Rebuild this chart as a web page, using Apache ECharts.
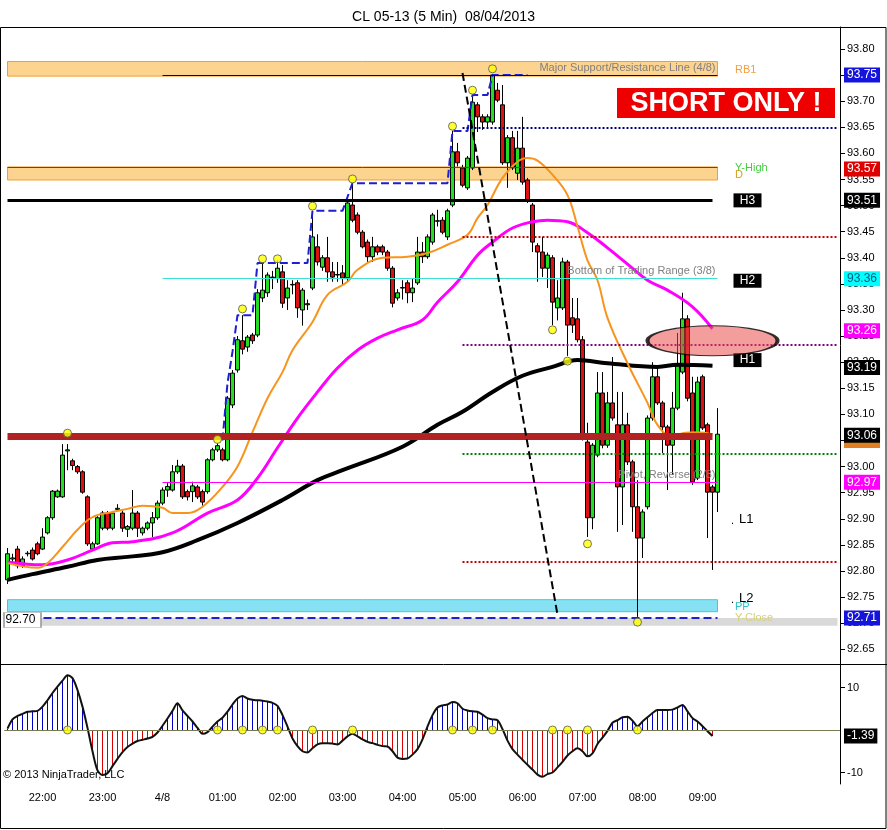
<!DOCTYPE html>
<html><head><meta charset="utf-8">
<script src="https://cdn.jsdelivr.net/npm/echarts@6/dist/echarts.min.js"></script>
<style>html,body{margin:0;padding:0;background:#fff}#c{width:887px;height:830px}</style>
</head><body><div id="c"></div>
<script>
// ---------------- DATA ----------------
const tickLabels = ['22:00','23:00','4/8','01:00','02:00','03:00','04:00','05:00','06:00','07:00','08:00','09:00'];
const priceTicks = [92.65,92.70,92.75,92.80,92.85,92.90,92.95,93.00,93.05,93.10,93.15,93.20,93.25,93.30,93.35,93.40,93.45,93.50,93.55,93.60,93.65,93.70,93.75,93.80];
const oscTicks = [-10, 10];
// [open, close, low, high]
const candles = [
[92.783,92.833,92.775,92.844],[92.823,92.825,92.815,92.833],[92.842,92.810,92.805,92.848],[92.810,92.823,92.806,92.828],[92.833,92.834,92.828,92.838],
[92.840,92.823,92.820,92.845],[92.852,92.833,92.830,92.856],[92.842,92.865,92.840,92.882],[92.873,92.902,92.870,92.905],[92.902,92.953,92.898,92.955],
[92.942,92.953,92.940,92.956],[92.942,93.022,92.940,93.043],[93.030,93.032,92.993,93.043],[93.011,93.002,92.993,93.015],[93.000,92.990,92.986,93.003],
[92.990,92.951,92.948,92.993],[92.942,92.852,92.848,92.945],[92.842,92.852,92.838,92.856],[92.852,92.902,92.850,92.905],[92.882,92.911,92.878,92.915],
[92.911,92.882,92.878,92.915],[92.882,92.911,92.878,92.915],[92.918,92.920,92.915,92.928],[92.911,92.882,92.875,92.915],[92.880,92.885,92.865,92.888],
[92.882,92.911,92.878,92.955],[92.911,92.882,92.865,92.915],[92.873,92.882,92.868,92.885],[92.882,92.892,92.878,92.895],[92.892,92.902,92.865,92.913],
[92.902,92.930,92.898,92.935],[92.930,92.955,92.926,92.960],[92.955,92.962,92.942,92.970],[92.955,92.990,92.952,93.003],[92.990,93.001,92.986,93.013],
[93.001,92.942,92.938,93.005],[92.952,92.942,92.935,92.956],[92.952,92.963,92.932,92.971],[92.961,92.942,92.938,92.965],[92.952,92.932,92.925,92.956],
[92.952,93.013,92.948,93.016],[93.013,93.032,93.010,93.036],[93.032,93.040,93.028,93.045],[93.032,93.013,93.010,93.036],[93.013,93.131,93.010,93.135],
[93.118,93.179,93.112,93.185],[93.185,93.243,93.180,93.250],[93.241,93.225,93.215,93.290],[93.229,93.248,93.220,93.252],[93.252,93.241,93.235,93.256],
[93.252,93.333,93.248,93.340],[93.323,93.338,93.315,93.392],[93.333,93.367,93.325,93.372],[93.362,93.363,93.340,93.375],[93.360,93.380,93.352,93.395],
[93.373,93.313,93.304,93.386],[93.323,93.342,93.300,93.357],[93.348,93.349,93.330,93.357],[93.352,93.304,93.285,93.357],[93.300,93.338,93.270,93.342],
[93.310,93.312,93.300,93.320],[93.342,93.440,93.338,93.490],[93.421,93.392,93.385,93.445],[93.382,93.400,93.375,93.405],[93.400,93.373,93.354,93.440],
[93.373,93.363,93.354,93.392],[93.367,93.368,93.354,93.392],[93.371,93.361,93.348,93.386],[93.362,93.505,93.355,93.510],[93.501,93.472,93.468,93.543],
[93.482,93.449,93.445,93.487],[93.449,93.421,93.418,93.453],[93.430,93.402,93.392,93.435],[93.402,93.421,93.392,93.440],[93.421,93.411,93.405,93.425],
[93.421,93.411,93.405,93.425],[93.411,93.380,93.375,93.415],[93.380,93.313,93.305,93.384],[93.323,93.333,93.318,93.340],[93.342,93.343,93.320,93.357],
[93.352,93.333,93.313,93.357],[93.333,93.342,93.315,93.360],[93.352,93.411,93.348,93.440],[93.411,93.402,93.390,93.430],[93.402,93.440,93.398,93.445],
[93.430,93.482,93.425,93.486],[93.470,93.471,93.460,93.492],[93.472,93.449,93.445,93.478],[93.440,93.490,93.434,93.494],[93.501,93.603,93.497,93.643],
[93.603,93.582,93.575,93.620],[93.572,93.539,93.535,93.578],[93.534,93.591,93.530,93.595],[93.572,93.698,93.568,93.712],[93.693,93.670,93.641,93.698],
[93.670,93.660,93.645,93.675],[93.660,93.670,93.648,93.675],[93.660,93.750,93.655,93.752],[93.721,93.702,93.698,93.735],[93.693,93.582,93.578,93.731],
[93.582,93.630,93.534,93.635],[93.630,93.572,93.568,93.643],[93.562,93.610,93.549,93.643],[93.610,93.545,93.540,93.670],[93.549,93.511,93.505,93.553],
[93.501,93.430,93.411,93.505],[93.423,93.411,93.354,93.428],[93.411,93.380,93.363,93.440],[93.380,93.405,93.342,93.410],[93.400,93.315,93.271,93.405],
[93.304,93.323,93.280,93.357],[93.304,93.392,93.300,93.400],[93.392,93.271,93.212,93.396],[93.285,93.271,93.256,93.323],[93.283,93.243,93.238,93.323],
[93.243,93.061,93.050,93.250],[93.047,92.902,92.865,93.084],[92.902,93.041,92.880,93.045],[93.022,93.141,93.018,93.181],[93.141,93.041,93.035,93.181],
[93.041,93.122,93.036,93.143],[93.122,93.093,93.088,93.210],[93.080,92.961,92.875,93.143],[92.961,93.080,92.888,93.143],[93.080,93.009,93.003,93.103],
[93.009,92.923,92.875,93.013],[92.923,92.863,92.712,92.974],[92.863,92.913,92.825,92.918],[92.923,93.093,92.918,93.098],[93.093,93.172,93.088,93.200],
[93.172,93.122,93.118,93.190],[93.122,93.076,93.026,93.126],[93.076,93.041,92.955,93.080],[93.041,93.112,92.984,93.143],[93.112,93.193,93.108,93.256],
[93.181,93.283,93.177,93.333],[93.283,93.131,93.125,93.290],[93.141,92.971,92.965,93.172],[92.978,93.162,92.974,93.172],[93.172,93.074,93.070,93.176],
[93.080,92.951,92.863,93.084],[92.961,92.951,92.802,92.965],[92.951,93.062,92.913,93.112]
];
// moving averages: [barIndex, price]
const fastMA = [[0,92.815],[6,92.806],[8,92.815],[11,92.846],[14,92.879],[17,92.903],[21,92.913],[24,92.919],[27,92.925],[31,92.921],[33,92.911],[36,92.911],[39,92.923],[43,92.961],[46,93.000],[49,93.066],[52,93.131],[55,93.181],[57,93.223],[61,93.277],[64,93.329],[68,93.354],[70,93.377],[75,93.400],[80,93.402],[84,93.409],[88,93.425],[92,93.444],[94,93.476],[96,93.501],[99,93.553],[102,93.584],[104,93.591],[106,93.586],[109,93.559],[112,93.520],[114,93.460],[116,93.395],[118,93.357],[120,93.285],[124,93.198],[128,93.122],[130,93.080],[133,93.057],[135,93.064],[138,93.066],[141,93.062]];
const midMA = [[0,92.817],[4,92.813],[7,92.812],[12,92.821],[17,92.840],[21,92.854],[25,92.856],[33,92.873],[40,92.911],[46,92.936],[50,92.978],[54,93.036],[58,93.093],[62,93.143],[66,93.189],[70,93.223],[74,93.246],[78,93.262],[83,93.281],[86,93.315],[90,93.354],[94,93.405],[97,93.430],[101,93.457],[105,93.469],[108,93.472],[112,93.469],[116,93.448],[120,93.419],[124,93.388],[128,93.357],[132,93.338],[137,93.306],[141,93.264]];
const slowMA = [[0,92.783],[5,92.794],[12,92.808],[18,92.821],[24,92.827],[31,92.836],[38,92.859],[46,92.892],[55,92.936],[62,92.974],[67,92.993],[79,93.038],[86,93.080],[91,93.105],[97,93.143],[103,93.174],[109,93.191],[114,93.204],[120,93.198],[130,93.191],[134,93.195],[141,93.193]];
const highChannel = [[43,93.05],[44,93.16],[45,93.22],[46,93.29],[49,93.29],[50,93.39],[60,93.39],[61,93.49],[67,93.49],[69,93.543],[88,93.543],[89,93.643],[92,93.643],[93,93.712],[96,93.712],[97,93.75],[104,93.75]];
const swingIdx = [12,42,47,51,54,61,69,89,93,97,109,112,116,126];
const swingPrice = [93.064,93.052,93.302,93.398,93.398,93.499,93.551,93.652,93.721,93.762,93.262,93.202,92.852,92.702];
const osc = [0.3,2.5,3.3,3.8,4.3,4.4,4.5,5.5,7.0,8.7,10.2,11.6,12.9,12.2,9.4,5.5,0.5,-5.0,-9.5,-10.6,
-10.2,-8.5,-6.8,-5.2,-4.0,-3.2,-2.6,-2.3,-2.0,-1.6,-0.6,1.0,2.7,4.5,6.3,4.6,3.3,2.0,0.5,-0.9,
-0.5,0.8,2.0,2.9,4.3,6.0,7.4,8.0,7.4,7.1,7.0,6.9,6.7,6.4,5.7,3.5,0.8,-2.0,-3.8,-5.0,
-5.3,-4.3,-3.4,-3.1,-3.1,-3.2,-3.4,-2.5,-1.5,-0.9,-1.5,-2.2,-2.8,-3.1,-3.5,-3.8,-3.9,-5.0,-6.5,-6.8,
-6.7,-5.8,-4.5,-2.2,0.8,3.5,5.3,5.8,6.0,6.6,6.3,5.0,4.6,4.4,4.3,3.6,2.8,2.5,2.3,0.2,
-2.5,-4.5,-5.8,-7.0,-8.2,-9.3,-10.5,-11.0,-10.4,-10.0,-8.8,-7.5,-6.0,-5.0,-4.3,-5.0,-6.2,-5.5,-3.3,-1.8,
-0.2,1.7,2.3,3.0,3.1,2.2,0.9,2.0,3.0,4.0,4.7,4.7,4.7,4.8,5.3,5.9,4.4,2.8,2.0,0.9,-0.3,-1.39];
const levels = {rb1:93.75, yHigh:93.573, h3:93.51, dot465:93.65, dot344:93.44, range38:93.36, dot323:93.233, brown:93.058, dot302:93.024, pivot28:92.97, dot281:92.817, yClose:92.71};
const badgeValues = [93.75, 93.57, 93.51, 93.36, 93.26, 93.19, 93.06, 92.97, 92.71];
const oscLast = -1.39;

// ---------------- CHART ----------------
const FONT = 'Liberation Sans';
const NCAT = 167;
const categories = [];
for (let i = 0; i < NCAT; i++) {
  const m = (21 * 60 + 25 + 5 * i) % 1440;
  categories.push(String(Math.floor(m / 60)).padStart(2, '0') + ':' + String(m % 60).padStart(2, '0'));
}
const tickIdx = tickLabels.map((_, k) => 7 + 12 * k);
const LAST = candles.length - 1;

function seg(i0, i1, v, ls, label) {
  const lab = label || {show: false};
  return [{coord: [i0, v], lineStyle: ls, label: lab}, {coord: [i1, v], lineStyle: ls, label: lab}];
}
const gray = {show: true, position: 'insideEndTop', color: '#808080', fontSize: 11, fontFamily: FONT, distance: 2};

const badgeBg = ['#1414dc', '#e00000', '#000', '#00ffff', '#ff00ff', '#000', '#000', '#ff00ff', '#1414dc'];
const badgeFg = ['#fff', '#fff', '#fff', '#005a80', '#fff', '#fff', '#fff', '#fff', '#fff'];
const HIDDEN = {color: 'rgba(255,255,255,0)', width: 1, type: 'solid', opacity: 1};
function badge(v, bg, fg, txt) {
  return {yAxis: v, lineStyle: HIDDEN, label: {show: true, position: 'end', distance: 4, formatter: txt, backgroundColor: bg, color: fg, padding: [2, 3, 1, 3], fontSize: 12, fontFamily: FONT, opacity: 1}};
}
const badges = [badge(93.052, '#e08020', '#e08020', '93.05')].concat(badgeValues.map((v, k) => badge(v, badgeBg[k], badgeFg[k], v.toFixed(2))));

function note(i, v, txt, color, size, off) {
  return {coord: [i, v], symbol: 'circle', symbolSize: 1, itemStyle: {color: 'rgba(0,0,0,0)'},
    label: {show: true, position: 'right', distance: 0, offset: off || [-3, 0], formatter: txt, color: color, fontSize: size || 11, fontFamily: FONT}};
}
function box(i, v, txt) {
  return {coord: [i, v], symbol: 'rect', symbolSize: [28, 14], itemStyle: {color: '#000'},
    label: {show: true, position: 'inside', formatter: txt, color: '#fff', fontSize: 12, fontFamily: FONT}};
}

const chart = echarts.init(document.getElementById('c'));
chart.setOption({
  animation: false,
  backgroundColor: '#fff',
  title: {text: 'CL 05-13 (5 Min)  08/04/2013', left: 'center', top: 5, textStyle: {fontSize: 14, fontWeight: 'normal', color: '#000', fontFamily: FONT}},
  grid: [
    {left: 5, right: 47, top: 27, height: 637},
    {left: 5, right: 47, top: 664, height: 120}
  ],
  xAxis: [
    {type: 'category', gridIndex: 0, data: categories, axisLine: {show: false}, axisTick: {show: false}, axisLabel: {show: false}, splitLine: {show: false}},
    {type: 'category', gridIndex: 1, data: categories, axisLine: {show: true, lineStyle: {color: '#000'}}, axisTick: {show: false},
      axisLabel: {interval: idx => tickIdx.includes(idx), formatter: (v, idx) => tickLabels[tickIdx.indexOf(idx)] || '', color: '#000', fontSize: 11, fontFamily: FONT, margin: 8}, splitLine: {show: false}}
  ],
  yAxis: [
    {type: 'value', gridIndex: 0, position: 'right', min: 92.6218, max: 93.8421, splitLine: {show: false},
      axisLine: {show: true, lineStyle: {color: '#000'}},
      axisTick: {show: true, length: 5, lineStyle: {color: '#000'}, customValues: priceTicks},
      axisLabel: {customValues: priceTicks, formatter: v => v.toFixed(2), color: '#000', fontSize: 11, fontFamily: FONT, margin: 7}},
    {type: 'value', gridIndex: 1, position: 'right', min: -12.71, max: 15.53, splitLine: {show: false},
      axisLine: {show: true, lineStyle: {color: '#000'}},
      axisTick: {show: true, length: 5, lineStyle: {color: '#000'}, customValues: oscTicks},
      axisLabel: {customValues: oscTicks, formatter: v => String(v), color: '#000', fontSize: 11, fontFamily: FONT, margin: 7}}
  ],
  series: [
    { // bands
      type: 'line', xAxisIndex: 0, yAxisIndex: 0, data: [], z: 1, silent: true,
      markArea: {silent: true, data: [
        [{coord: [0, 93.776], itemStyle: {color: '#fcd490', borderColor: '#f0a030', borderWidth: 1}}, {coord: [LAST, 93.748]}],
        [{coord: [0, 93.574], itemStyle: {color: '#fcd490', borderColor: '#f0a030', borderWidth: 1}}, {coord: [LAST, 93.549]}],
        [{coord: [0, 92.745], itemStyle: {color: '#86e2f2', borderColor: '#40c8e0', borderWidth: 1}}, {coord: [LAST, 92.722]}],
        [{coord: [0, 92.710], itemStyle: {color: '#d9d9d9'}}, {coord: [NCAT - 1, 92.695]}]
      ]},
      markLine: {silent: true, symbol: ['none', 'none'], data: [
        seg(31, LAST, levels.rb1, {color: '#000080', width: 1, type: 'solid'}, Object.assign({formatter: 'Major Support/Resistance Line (4/8)'}, gray)),
        seg(0, LAST, levels.yHigh, {color: '#ff0000', width: 1, type: 'solid'}),
        seg(91, NCAT - 1, levels.dot465, {color: '#000080', width: 2, type: 'dotted'}),
        seg(91, NCAT - 1, levels.dot344, {color: '#cc0000', width: 2, type: 'dotted'}),
        seg(31, LAST, levels.range38, {color: '#40e0d0', width: 1, type: 'solid'}, Object.assign({formatter: 'Bottom of Trading Range (3/8)'}, gray)),
        seg(91, NCAT - 1, levels.dot323, {color: '#800080', width: 2, type: 'dotted'}),
        seg(91, NCAT - 1, levels.dot302, {color: '#008000', width: 2, type: 'dotted'}),
        seg(31, LAST, levels.pivot28, {color: '#ff00ff', width: 1, type: 'solid'}, Object.assign({formatter: 'Pivot, Reverse (2/8)'}, gray)),
        seg(91, NCAT - 1, levels.dot281, {color: '#cc0000', width: 2, type: 'dotted'}),
        seg(0, LAST, levels.yClose, {color: '#2020d0', width: 2, type: 'dashed'})
      ]}
    },
    {
      type: 'candlestick', xAxisIndex: 0, yAxisIndex: 0, data: candles, barWidth: 4, z: 2,
      itemStyle: {color: '#22dd22', color0: '#dd1111', borderColor: '#000', borderColor0: '#000', borderColorDoji: '#000', borderWidth: 1}
    },
    {type: 'line', xAxisIndex: 0, yAxisIndex: 0, data: slowMA, smooth: 0.4, showSymbol: false, lineStyle: {color: '#000', width: 4}, z: 3},
    {type: 'line', xAxisIndex: 0, yAxisIndex: 0, data: midMA, smooth: 0.4, showSymbol: false, lineStyle: {color: '#ff00ff', width: 3}, z: 3},
    {type: 'line', xAxisIndex: 0, yAxisIndex: 0, data: fastMA, smooth: 0.4, showSymbol: false, lineStyle: {color: '#f7941d', width: 2}, z: 3},
    {type: 'line', xAxisIndex: 0, yAxisIndex: 0, data: highChannel, showSymbol: false, lineStyle: {color: '#1e1ed2', width: 2, type: 'dashed'}, z: 3},
    { // overlay levels
      type: 'line', xAxisIndex: 0, yAxisIndex: 0, data: [], z: 4, silent: true,
      markLine: {silent: true, symbol: ['none', 'none'], data: [
        seg(0, LAST - 1, levels.h3, {color: '#000', width: 3, type: 'solid'}),
        seg(0, LAST - 1, levels.brown, {color: '#b22222', width: 7, type: 'solid'}),
        [{coord: [91, 93.754], lineStyle: {color: '#000', width: 2, type: 'dashed'}, label: {show: false}}, {coord: [110, 92.716], lineStyle: {color: '#000', width: 2, type: 'dashed'}, label: {show: false}}]
      ]},
      markPoint: {silent: true, data: [
        note(146, 93.760, 'RB1', '#f0a040'),
        note(146, 93.572, 'Y-High', '#44cc44'),
        note(146, 93.559, 'D', '#d4a020'),
        note(146, 92.731, 'PP', '#30c0c0'),
        note(146, 92.710, 'Y-Close', '#d8d070'),
        note(146, 92.898, 'L1', '#000', 13, [1, 0]),
        note(146, 92.748, 'L2', '#000', 13, [1, 0]),
        note(145, 92.895, '.', '#000', 11, [-2, 0]),
        note(145, 92.745, '.', '#000', 11, [-2, 0]),
        box(148, 93.510, 'H3'),
        box(148, 93.356, 'H2'),
        box(148, 93.204, 'H1'),
        {coord: [3, 92.706], symbol: 'rect', symbolSize: [37, 15], itemStyle: {color: '#fff', borderColor: '#999', borderWidth: 1},
          label: {show: true, position: 'inside', offset: [-2, 0], formatter: '92.70', color: '#000', fontSize: 12, fontFamily: FONT}}
      ]}
    },
    { // axis value badges
      type: 'candlestick', xAxisIndex: 0, yAxisIndex: 0, data: [], z: 8, silent: true,
      markLine: {silent: true, symbol: ['none', 'none'], data: badges}
    },
    {type: 'scatter', xAxisIndex: 0, yAxisIndex: 0, data: swingIdx.map((i, k) => [i, swingPrice[k]]), symbolSize: 8,
      itemStyle: {color: '#ffff00', borderColor: '#555', borderWidth: 1}, z: 5},
    {type: 'scatter', xAxisIndex: 0, yAxisIndex: 0, data: [[141, 93.241]], symbol: 'circle', symbolSize: [130, 30],
      itemStyle: {color: 'rgba(233,74,74,0.68)', borderColor: '#000', borderWidth: 2}, z: 6, silent: true},
    // oscillator
    {type: 'bar', xAxisIndex: 1, yAxisIndex: 1, data: osc, barWidth: 1, z: 2,
      itemStyle: {color: p => p.value >= 0 ? '#0000cc' : '#dd0000'},
      markLine: {silent: true, symbol: ['none', 'none'], data: [
        {yAxis: 0, lineStyle: {color: '#7a7a50', width: 1, type: 'solid'}, label: {show: false}},
        {yAxis: oscLast, lineStyle: HIDDEN, label: {show: true, position: 'end', distance: 4, formatter: oscLast.toFixed(2), backgroundColor: '#000', color: '#fff', padding: [2, 3, 1, 3], fontSize: 12, fontFamily: FONT}}
      ]}},
    {type: 'line', xAxisIndex: 1, yAxisIndex: 1, data: osc, smooth: 0.3, showSymbol: false, lineStyle: {color: '#111', width: 2}, z: 3},
    {type: 'scatter', xAxisIndex: 1, yAxisIndex: 1, data: swingIdx.map(i => [i, 0]), symbolSize: 8,
      itemStyle: {color: '#ffff00', borderColor: '#555', borderWidth: 1}, z: 5}
  ],
  graphic: [
    {type: 'rect', shape: {x: 0.5, y: 27.5, width: 885.5, height: 801}, style: {fill: 'none', stroke: '#000', lineWidth: 1}, z: 100, silent: true},
    {type: 'line', shape: {x1: 0, y1: 664.5, x2: 887, y2: 664.5}, style: {stroke: '#000', lineWidth: 1}, z: 100, silent: true},
    {type: 'rect', shape: {x: 617, y: 88, width: 218, height: 30}, style: {fill: '#ee0000'}, z: 90, silent: true},
    {type: 'text', x: 726, y: 104, style: {text: 'SHORT ONLY !', fill: '#fff', font: 'bold 27px "Liberation Sans"', align: 'center', verticalAlign: 'middle'}, z: 91, silent: true},
    {type: 'text', x: 3, y: 769, style: {text: '\u00a9 2013 NinjaTrader, LLC', fill: '#000', font: '11px "Liberation Sans"'}, z: 91, silent: true}
  ]
});
</script>
</body></html>
